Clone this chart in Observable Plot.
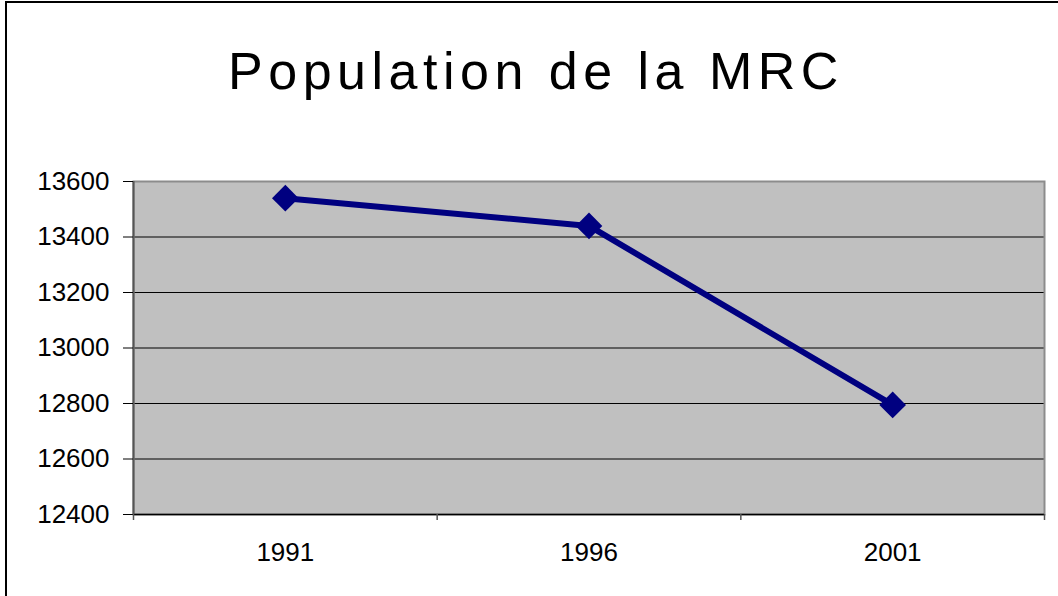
<!DOCTYPE html>
<html>
<head>
<meta charset="utf-8">
<script src="https://cdn.jsdelivr.net/npm/d3@7"></script>
<script src="https://cdn.jsdelivr.net/npm/@observablehq/plot@0.6"></script>
<style>
  html, body { margin: 0; padding: 0; background: #fff; }
  #wrap { position: relative; width: 1058px; height: 596px; overflow: hidden; font-family: "Liberation Sans", Arial, sans-serif; }
  #frame { position: absolute; left: 5px; top: 1px; width: 1100px; height: 700px; border-left: 2px solid #000; border-top: 2px solid #000; box-sizing: border-box; }
  #title { position: absolute; left: 0; top: 0; width: 1072px; height: 150px; text-align: center; font-size: 52px; letter-spacing: 5.5px; line-height: 1; padding-top: 45px; box-sizing: border-box; color: #000; }
  #chart { position: absolute; left: 0; top: 150px; }
</style>
</head>
<body>
<div id="wrap">
  <div id="frame"></div>
  <div id="title">Population de la MRC</div>
  <div id="chart"></div>
</div>
<script>
const years = [1991, 1996, 2001];
const population = [13540, 13440, 12795];
const yTicks = [12400, 12600, 12800, 13000, 13200, 13400, 13600];
const xBoundaries = [1988.5, 1993.5, 1998.5, 2003.5];

const data = years.map((y, i) => ({year: y, pop: population[i]}));
const gridLines = yTicks.filter(v => v > 12400 && v < 13600);

const chart = Plot.plot({
  width: 1058,
  height: 446,
  marginTop: 31,
  marginBottom: 82,
  marginLeft: 133,
  marginRight: 14,
  style: {fontFamily: "'Liberation Sans', Arial, sans-serif", fontSize: "26px", color: "#000", background: "transparent"},
  x: {domain: [1988.5, 2003.5]},
  y: {domain: [12400, 13600]},
  marks: [
    Plot.frame({fill: "#c0c0c0", stroke: "none"}),
    Plot.ruleY(gridLines, {stroke: "#000", strokeWidth: 1}),
    Plot.frame({fill: "none", stroke: "#8c8c8c", strokeWidth: 2}),
    Plot.ruleY([12400], {stroke: "#000", strokeWidth: 1.5}),
    Plot.ruleX([1988.5], {stroke: "#555", strokeWidth: 2}),
    Plot.axisY({ticks: yTicks, tickSize: 10, tickPadding: 14, tickFormat: d => String(d), label: null, stroke: "#000", strokeOpacity: 1, fontSize: 26}),
    Plot.axisX({ticks: xBoundaries, tickSize: 6, tickFormat: () => "", label: null, stroke: "#555", strokeOpacity: 1, strokeWidth: 1.5}),
    Plot.axisX({ticks: years, tickSize: 0, tickPadding: 28, tickFormat: d => String(d), label: null, fontSize: 26}),
    Plot.line(data, {x: "year", y: "pop", stroke: "#000080", strokeWidth: 6}),
    Plot.dot(data, {x: "year", y: "pop", symbol: "diamond2", r: 12, fill: "#000080", stroke: "none"})
  ]
});
document.getElementById("chart").appendChild(chart);
</script>
</body>
</html>
